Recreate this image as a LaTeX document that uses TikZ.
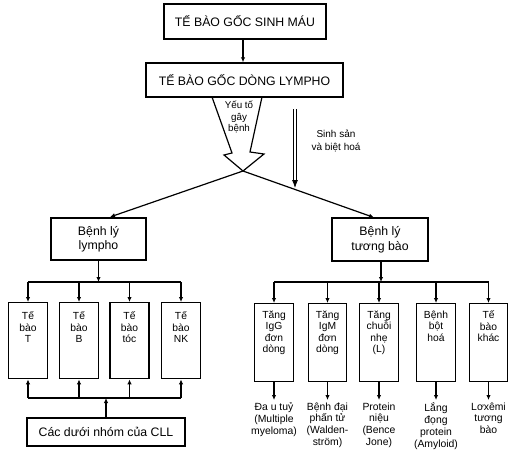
\documentclass[tikz,border=0pt]{standalone}
\usepackage{fontspec}
\setmainfont{Liberation Sans}
\usetikzlibrary{arrows.meta}

\begin{document}
\begin{tikzpicture}[x=1pt,y=-1pt,line width=1.2pt,
bigbox/.style={draw,line width=1.4pt,inner sep=0pt,align=center,font=\fontsize{12.3}{14.5}\selectfont},
cellbox/.style={draw,line width=1.4pt,inner sep=0pt,font=\fontsize{10.3}{11.5}\selectfont},
outtext/.style={inner sep=2pt,align=center,font=\fontsize{10.4}{11.8}\selectfont},
arr/.style={-{Latex[length=5pt,width=4.5pt]}}
]
\useasboundingbox (0,0) rectangle (518,468);

% top of the tree
\node[bigbox,minimum width=162pt,minimum height=35pt] (sinhmau) at (245,21.5) {TẾ BÀO GỐC SINH MÁU};
\node[bigbox,minimum width=197pt,minimum height=34pt] (lympho0) at (244.5,80) {TẾ BÀO GỐC DÒNG LYMPHO};
\draw[arr] (sinhmau.south -| 243,0) -- (lympho0.north -| 243,0);

% hollow arrow
\coordinate (tip) at (243,171);
\draw[line width=1.2pt] (212,97) -- (232,153) -- (224,155) -- (tip) -- (264,154) -- (250,152) -- (262,97);
\node[font=\fontsize{9.8}{11.5}\selectfont,align=center] (yeuto) at (239,117) {Yếu tố\\gây\\bệnh};

% double arrow
\coordinate (dtop) at (295,109);
\coordinate (dtip) at (295,188);
\draw[double,double distance=2pt,line width=.8pt,-{Latex[length=8pt,width=6pt]}] (dtop) -- (dtip);
\node[font=\fontsize{10}{12.5}\selectfont,align=center] (sinhsan) at (336,141) {Sinh sản\\và biệt hoá};

\node[bigbox,minimum width=95pt,minimum height=42pt] (lympho) at (98.5,239) {Bệnh lý\\lympho};
\node[bigbox,minimum width=96pt,minimum height=43pt] (tuongbao) at (380,239.5) {Bệnh lý\\tương bào};
\coordinate (lend) at (110,217);
\coordinate (rend) at (374,217.5);
\draw[arr] (tip) -- (lend);
\draw[arr] (tip) -- (rend);

% left branch
\coordinate (lbus) at (98.5,282);
\coordinate (lbot) at (106,398);
\node[bigbox,minimum width=158pt,minimum height=28pt] (cll) at (106,432) {Các dưới nhóm của CLL};
\draw[arr] (lympho.south) -- (lbus);
\draw[arr] (cll.north) -- (lbot);
\foreach \x/\name/\txt in {28/t/{Tế\\bào\\T},79/b/{Tế\\bào\\B},129.5/toc/{Tế\\bào\\tóc},181/nk/{Tế\\bào\\NK}}
{
\node[cellbox,anchor=north] (\name) at (\x,302) {\parbox[c][76pt][t]{39pt}{\centering\vspace*{9pt}\txt}};
\draw[arr] (\name.north |- lbus) -- (\name.north);
\draw[arr] (\name.south |- lbot) -- (\name.south);
}
\draw (t.north |- lbus) -- (nk.north |- lbus);
\draw (t.south |- lbot) -- (nk.south |- lbot);

% right branch
\coordinate (rbus) at (381,282);
\draw[arr] (tuongbao.south -| rbus) -- (rbus);
\foreach \x/\name/\txt/\out in {274/igg/{Tăng\\IgG\\đơn\\dòng}/{Đa u tuỷ\\(Multiple\\myeloma)},
327.5/igm/{Tăng\\IgM\\đơn\\dòng}/{Bệnh đại\\phấn tử\\(Walden-\\ström)},
379/nhe/{Tăng\\chuỗi\\nhẹ\\(L)}/{Protein\\niệu\\(Bence\\Jone)},
436/bot/{Bệnh\\bột\\hoá}/{Lắng\\đọng\\protein\\(Amyloid)},
488.5/khac/{Tế\\bào\\khác}/{Lơxêmi\\tương\\bào}}
{
\node[cellbox,anchor=north] (\name) at (\x,303) {\parbox[c][78pt][t]{38.5pt}{\centering\vspace*{7pt}\txt}};
\draw[arr] (\name.north |- rbus) -- (\name.north);
\node[outtext,anchor=north] (o\name) at (\x,400) {\out};
\draw[arr] (\name.south) -- (o\name.north);
}
\draw (igg.north |- rbus) -- (khac.north |- rbus);
\end{tikzpicture}
\end{document}
